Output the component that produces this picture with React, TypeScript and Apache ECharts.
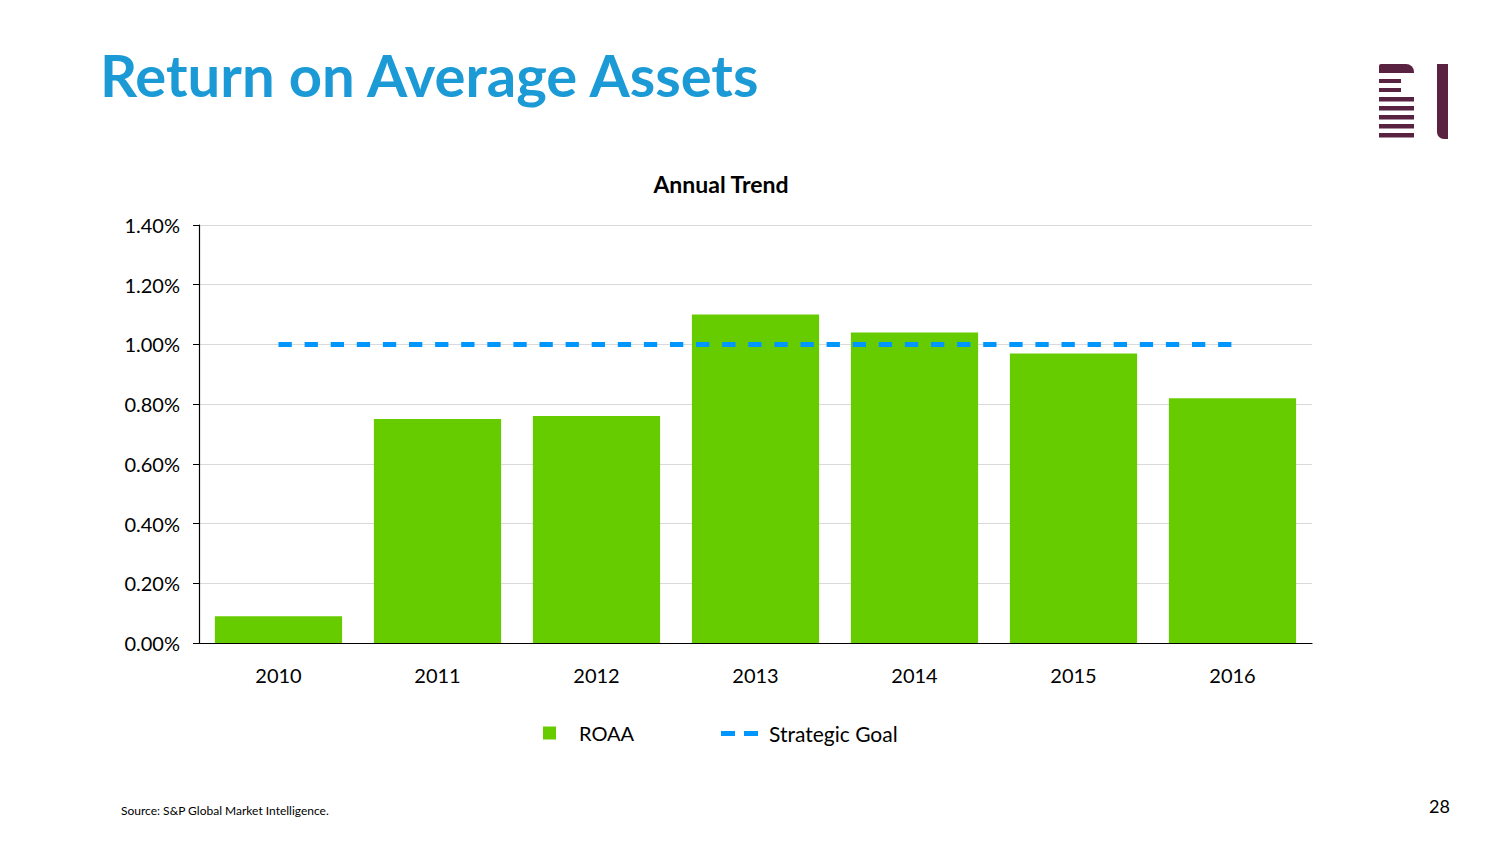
import React, { useEffect, useRef } from "react";
import * as echarts from "echarts";

const years = ["2010", "2011", "2012", "2013", "2014", "2015", "2016"];
const roaa = [0.09, 0.75, 0.76, 1.1, 1.04, 0.97, 0.82];
const strategicGoal = [1.0, 1.0, 1.0, 1.0, 1.0, 1.0, 1.0];
const yTicks = { min: 0, max: 1.4, interval: 0.2 };

const FONT = "Lato, 'Open Sans', sans-serif";
const LOGO = "#5A2241";

export default function App() {
  const ref = useRef<HTMLDivElement>(null);
  useEffect(() => {
    if (!ref.current) return;
    const chart = echarts.init(ref.current, undefined, { renderer: "svg" });
    const longBars = [97, 106, 115, 124, 133];
    const shortBars = [79, 88];
    chart.setOption({
      animation: false,
      backgroundColor: "#ffffff",
      textStyle: { fontFamily: FONT },
      title: [
        {
          text: "Return on Average Assets",
          left: 95,
          top: 40,
          textStyle: { fontSize: 58, fontWeight: "bold", color: "#1B9AD6", fontFamily: FONT },
        },
        {
          text: "Annual Trend",
          left: 716,
          top: 167,
          textAlign: "center",
          textStyle: { fontSize: 23, fontWeight: "bold", color: "#000", fontFamily: FONT },
        },
        {
          text: "Source: S&P Global Market Intelligence.",
          left: 116,
          top: 799,
          textStyle: { fontSize: 12, fontWeight: "normal", color: "#000", fontFamily: FONT },
        },
        {
          text: "28",
          left: 1424,
          top: 792,
          textStyle: { fontSize: 18, fontWeight: "normal", color: "#000", fontFamily: FONT },
        },
      ],
      grid: { left: 199, right: 192, top: 225, bottom: 203, containLabel: false },
      xAxis: {
        type: "category",
        data: years,
        axisLine: { lineStyle: { color: "#000", width: 1.2 } },
        axisTick: { alignWithLabel: true, length: 6, lineStyle: { color: "#000" } },
        axisLabel: { color: "#000", fontSize: 20, margin: 22, fontFamily: FONT },
      },
      yAxis: {
        type: "value",
        min: yTicks.min,
        max: yTicks.max,
        interval: yTicks.interval,
        axisLine: { show: true, lineStyle: { color: "#000", width: 1.2 } },
        axisTick: { show: true, length: 6, lineStyle: { color: "#000" } },
        axisLabel: {
          color: "#000",
          fontSize: 20,
          margin: 19,
          fontFamily: FONT,
          formatter: (v: number) => v.toFixed(2) + "%",
        },
        splitLine: { lineStyle: { color: "#D9D9D9", width: 1 } },
      },
      legend: [
        {
          data: ["ROAA"],
          left: 538,
          top: 718,
          itemWidth: 13,
          itemHeight: 13,
          icon: "rect",
          textStyle: { fontSize: 20, color: "#000", padding: [0, 0, 0, 18], fontFamily: FONT },
        },
        {
          data: [
            {
              name: "Strategic Goal",
              icon: "path://M0,0h14v5h-14z M23,0h14v5h-14z",
            },
          ],
          left: 716,
          top: 718,
          itemWidth: 37,
          itemHeight: 5,
          itemStyle: { color: "#0096FF" },
          textStyle: { fontSize: 21, color: "#000", padding: [0, 0, 0, 6], fontFamily: FONT },
        },
      ],
      series: [
        {
          name: "ROAA",
          type: "bar",
          data: roaa,
          barCategoryGap: "20%",
          itemStyle: { color: "#66CC00" },
        },
        {
          name: "Strategic Goal",
          type: "line",
          data: strategicGoal,
          symbol: "none",
          lineStyle: { color: "#0096FF", width: 5, type: [13.3, 12.8] },
          itemStyle: { color: "#0096FF" },
        },
      ],
      graphic: [
        {
          type: "rect",
          shape: { x: 1379, y: 64, width: 35, height: 9, r: [2, 8, 0, 0] },
          style: { fill: LOGO },
        },
        ...shortBars.map((y) => ({
          type: "rect",
          shape: { x: 1379, y, width: 22, height: 4 },
          style: { fill: LOGO },
        })),
        ...longBars.map((y) => ({
          type: "rect",
          shape: { x: 1379, y, width: 35, height: 4.5 },
          style: { fill: LOGO },
        })),
        {
          type: "rect",
          shape: { x: 1437, y: 64, width: 11, height: 75, r: [0, 0, 0, 7] },
          style: { fill: LOGO },
        },
      ],
    });
    return () => chart.dispose();
  }, []);
  return (
    <div
      ref={ref}
      style={{ position: "absolute", left: 0, top: 0, width: 1504, height: 846 }}
    />
  );
}
